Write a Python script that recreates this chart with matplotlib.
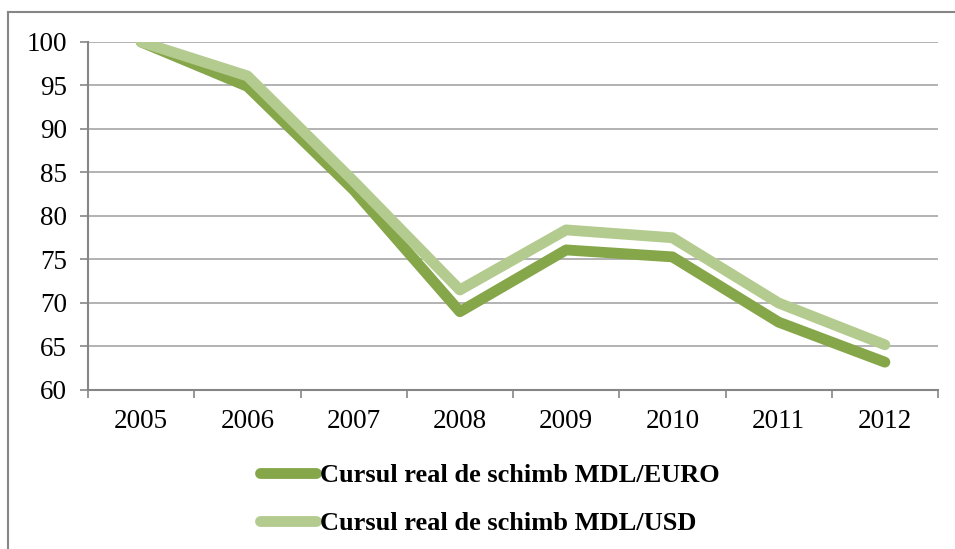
import matplotlib
matplotlib.use('Agg')
import matplotlib.pyplot as plt
from matplotlib.lines import Line2D
import numpy as np

years = ['2005', '2006', '2007', '2008', '2009', '2010', '2011', '2012']
euro = [100, 94.9, 83.0, 69.0, 76.1, 75.3, 67.8, 63.2]
usd = [100, 96.1, 84.0, 71.5, 78.4, 77.5, 70.0, 65.2]
labels = ['Cursul real de schimb MDL/EURO', 'Cursul real de schimb MDL/USD']

plt.rcParams['font.family'] = ['Liberation Serif', 'DejaVu Serif']

fig = plt.figure(figsize=(9.55, 5.49), dpi=100)
ax = fig.add_axes([88 / 955, 1 - 390 / 549, (938 - 88) / 955, (390 - 42) / 549])

x = np.arange(len(years))
ax.plot(x, euro, color='#86A64A', lw=7.8, solid_capstyle='round',
        solid_joinstyle='round', label=labels[0], zorder=3)
ax.plot(x, usd, color='#B4CB8F', lw=7.8, solid_capstyle='round',
        solid_joinstyle='round', label=labels[1], zorder=4)

ax.set_xlim(-0.5, len(years) - 0.5)
ax.set_ylim(60, 100)
ax.set_yticks(np.arange(60, 101, 5))
ax.set_xticks(x)
ax.set_xticklabels(years)
ax.set_xticks(np.arange(-0.5, len(years), 1), minor=True)

ax.grid(axis='y', color='#A6A6A6', lw=1.2, zorder=0)
for s in ['top', 'right']:
    ax.spines[s].set_visible(False)
for s in ['left', 'bottom']:
    ax.spines[s].set_color('#868686')
    ax.spines[s].set_linewidth(1.5)

ax.tick_params(axis='y', length=6, width=1.2, color='#868686', labelsize=19.5, pad=9)
ax.tick_params(axis='x', which='major', length=0, labelsize=19.5, pad=14)
ax.tick_params(axis='x', which='minor', length=6, width=1.2, color='#868686')

fig.legend(loc='upper center', bbox_to_anchor=(0.513, 1 - 440 / 549), ncol=1,
           frameon=False, prop={'size': 19, 'weight': 'bold'},
           handlelength=2.1, handletextpad=0.15, labelspacing=0.92)

# outer chart frame (cut off at right and bottom)
fig.add_artist(Line2D([8 / 955, 8 / 955], [0, 1 - 12 / 549], color='#868686', lw=1.5))
fig.add_artist(Line2D([8 / 955, 1], [1 - 12 / 549, 1 - 12 / 549], color='#868686', lw=1.5))

fig.savefig('out.png', dpi=100)
